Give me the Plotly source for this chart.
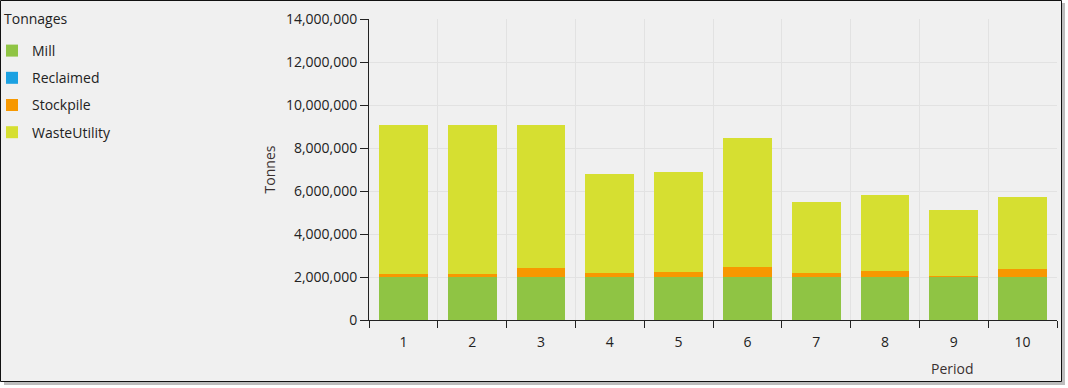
import plotly.graph_objects as go

periods = ["1", "2", "3", "4", "5", "6", "7", "8", "9", "10"]
mill = [2000000, 2000000, 2000000, 2000000, 2000000, 2000000, 2000000, 2000000, 2000000, 2000000]
reclaimed = [0, 0, 0, 0, 0, 0, 0, 0, 0, 0]
stockpile = [120000, 120000, 420000, 190000, 230000, 470000, 190000, 280000, 50000, 370000]
waste = [6960000, 6960000, 6660000, 4580000, 4670000, 6010000, 3310000, 3550000, 3080000, 3330000]

series = [
    ("Mill", mill, "#8FC444"),
    ("Reclaimed", reclaimed, "#1BA1E2"),
    ("Stockpile", stockpile, "#F79800"),
    ("WasteUtility", waste, "#D6DF31"),
]

FONT = "Open Sans, Noto Sans, sans-serif"
W, H = 1068, 388
L, R, T, B = 369, 11, 19, 68
pw, ph = W - L - R, H - T - B

def px(x):
    return (x - L) / pw

def py(y):
    return (H - B - y) / ph

fig = go.Figure()
for name, vals, col in series:
    fig.add_trace(go.Bar(
        x=periods, y=vals, name=name, legendgroup=name,
        marker=dict(color=col, line=dict(width=0)),
    ))

fig.update_layout(
    width=W, height=H,
    barmode="stack", bargap=0.29,
    margin=dict(l=L, r=R, t=T, b=B, autoexpand=False),
    paper_bgcolor="white", plot_bgcolor="#F0F0F0",
    font=dict(family=FONT, size=14, color="#222222"),
    showlegend=True,
    legend=dict(
        x=px(-8), y=py(35), xanchor="left", yanchor="top",
        traceorder="grouped", tracegroupgap=6,
        bgcolor="rgba(0,0,0,0)", font=dict(size=14, color="#222222"),
    ),
    xaxis=dict(
        type="category", tickson="boundaries",
        showgrid=True, gridcolor="#E2E2E2", gridwidth=1,
        showline=True, linecolor="#222222", linewidth=1,
        ticks="outside", ticklen=7, tickcolor="#222222",
        tickfont=dict(size=14, color="#222222"),
        ticklabelstandoff=9,
        zeroline=False,
    ),
    yaxis=dict(
        range=[0, 14000000], dtick=2000000, tickformat=",d",
        showgrid=True, gridcolor="#E2E2E2", gridwidth=1,
        showline=True, linecolor="#222222", linewidth=1,
        ticks="outside", ticklen=8, tickcolor="#222222",
        tickfont=dict(size=14, color="#222222"),
        zeroline=False,
        title=dict(text="Tonnes", font=dict(size=14, color="#3A3030"), standoff=7),
    ),
    annotations=[
        dict(text="Tonnages", xref="paper", yref="paper", x=px(2), y=py(18),
             xanchor="left", yanchor="middle", showarrow=False,
             font=dict(size=14, color="#222222")),
        dict(text="Period", xref="paper", yref="paper", x=px(952), y=py(368),
             xanchor="center", yanchor="middle", showarrow=False,
             font=dict(size=14, color="#3A3030")),
    ],
    shapes=[
        dict(type="rect", xref="paper", yref="paper", layer="below",
             x0=px(4), x1=px(1065), y0=py(385), y1=py(3),
             fillcolor="#BDBDBD", line=dict(width=0)),
        dict(type="rect", xref="paper", yref="paper", layer="below",
             x0=px(0.5), x1=px(1061.5), y0=py(381.5), y1=py(0.5),
             fillcolor="#F0F0F0", line=dict(color="#111111", width=1)),
    ],
)

fig.write_html("out.html", config={"displayModeBar": False},
               post_script="document.body.style.margin='0';document.body.style.overflow='hidden';")
